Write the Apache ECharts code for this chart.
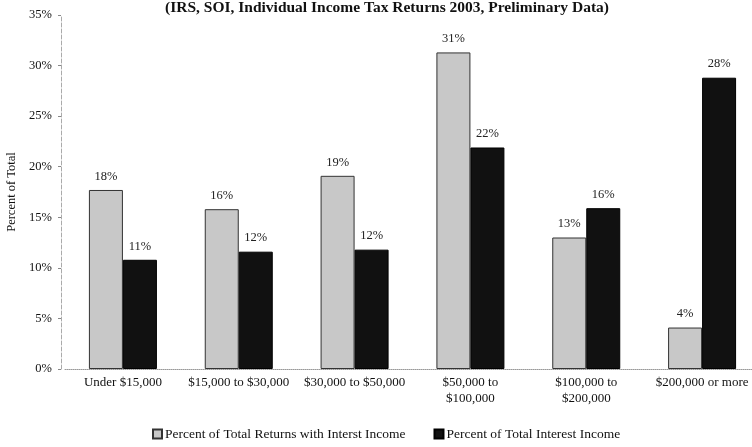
<!DOCTYPE html>
<html><head><meta charset="utf-8">
<script src="https://cdn.jsdelivr.net/npm/echarts@6/dist/echarts.min.js"></script>
<style>html,body{margin:0;padding:0;background:#fff}#c{width:752px;height:447px}</style>
</head><body><div id="c"></div>
<script>
var categories = ['Under $15,000', '$15,000 to $30,000', '$30,000 to $50,000', '$50,000 to\n$100,000', '$100,000 to\n$200,000', '$200,000 or more'];
var returnsShare = [17.7, 15.8, 19.1, 31.3, 13.0, 4.1];
var incomeShare = [10.8, 11.6, 11.8, 21.9, 15.9, 28.8];
var returnsLabels = ['18%', '16%', '19%', '31%', '13%', '4%'];
var incomeLabels = ['11%', '12%', '12%', '22%', '16%', '28%'];
var seriesNames = ['Percent of Total Returns with Interst Income', 'Percent of Total Interest Income'];

var font = 'Liberation Serif, Times New Roman, serif';
var chart = echarts.init(document.getElementById('c'));
chart.setOption({
  animation: false,
  textStyle: {fontFamily: font},
  title: {
    text: '(IRS, SOI, Individual Income Tax Returns 2003, Preliminary Data)',
    left: 382, top: -5, textAlign: 'center',
    textStyle: {fontFamily: font, fontSize: 15.5, fontWeight: 'bold', color: '#111'}
  },
  legend: {
    bottom: 1, left: 147, itemGap: 28, itemWidth: 9, itemHeight: 9, icon: 'rect',
    textStyle: {fontFamily: font, fontSize: 13.5, color: '#111', padding: [0, 0, 0, -2]},
    data: seriesNames
  },
  grid: {left: 65, top: 15, width: 695, height: 354, outerBoundsMode: 'none', containLabel: false},
  xAxis: {
    type: 'category', data: categories,
    axisLine: {lineStyle: {color: '#999', type: 'dotted'}},
    axisTick: {show: false},
    axisLabel: {fontFamily: font, fontSize: 13, color: '#111', margin: 6, interval: 0, lineHeight: 16}
  },
  yAxis: {
    type: 'value', min: 0, max: 35, interval: 5, offset: 4,
    name: 'Percent of Total', nameLocation: 'middle', nameGap: 34, nameRotate: 90,
    nameTextStyle: {fontFamily: font, fontSize: 12.5, color: '#111'},
    axisLine: {show: true, lineStyle: {color: '#aaa', type: 'dashed'}},
    axisTick: {show: true, length: 3, lineStyle: {color: '#888'}},
    splitLine: {show: false},
    axisLabel: {formatter: '{value}%', fontFamily: font, fontSize: 12.5, color: '#111', margin: 9}
  },
  series: [
    {
      name: seriesNames[0], type: 'bar', data: returnsShare, barWidth: 34, barGap: '0%',
      itemStyle: {color: '#c8c8c8', borderColor: '#333', borderWidth: 1},
      label: {show: true, position: 'top', distance: 7, fontFamily: font, fontSize: 12.5, color: '#222',
        formatter: function (p) { return returnsLabels[p.dataIndex]; }}
    },
    {
      name: seriesNames[1], type: 'bar', data: incomeShare, barWidth: 34,
      itemStyle: {color: '#111', borderColor: '#000', borderWidth: 1},
      label: {show: true, position: 'top', distance: 7, fontFamily: font, fontSize: 12.5, color: '#222',
        formatter: function (p) { return incomeLabels[p.dataIndex]; }}
    }
  ]
});
</script></body></html>
